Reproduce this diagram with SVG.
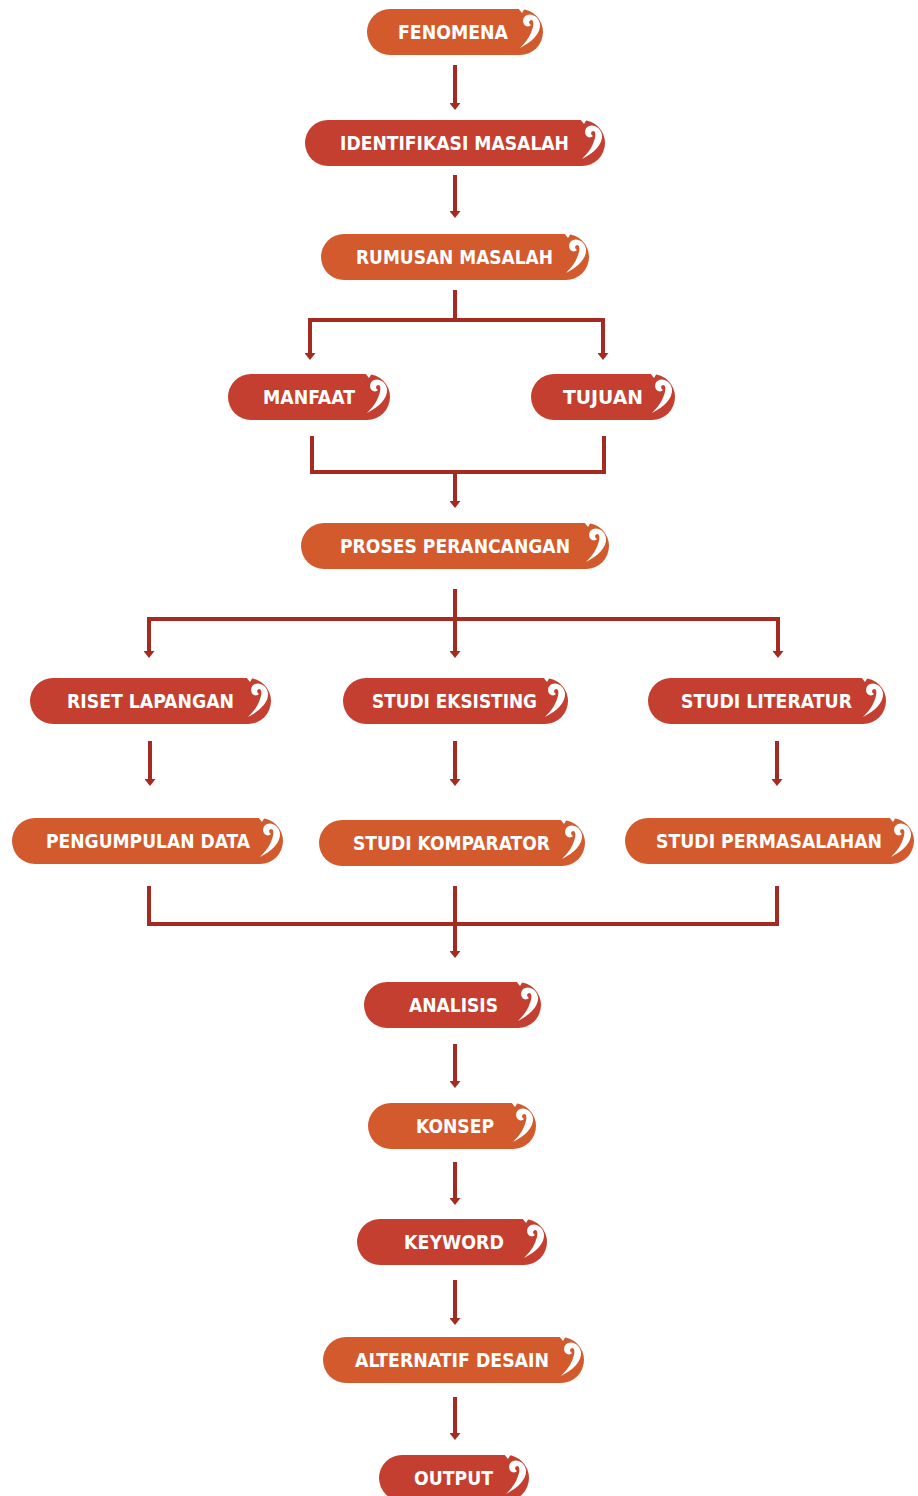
<svg xmlns="http://www.w3.org/2000/svg" xmlns:xlink="http://www.w3.org/1999/xlink" width="918" height="1496" viewBox="0 0 918 1496">
<style>
.o{fill:#D35A2D}
.r{fill:#C43F2F}
.t{font-family:"DejaVu Sans Condensed","Liberation Sans",sans-serif;font-weight:bold;font-size:19px;fill:#fff;text-anchor:middle}
.c{stroke:#A52A22;stroke-width:4;fill:none}
</style>
<defs>
<marker id="ah" markerUnits="userSpaceOnUse" markerWidth="7" markerHeight="11" viewBox="0 0 7 11" refX="1" refY="5.5" orient="auto">
<path d="M0,0 L7,5.5 L0,11 Z" fill="#A52A22"/>
</marker>
<path id="sw" fill="#fff" d="M-23,39 C-11,33 -2,24 -3,15 C-4,8 -11,4 -16,6 C-21,8 -21,15 -17,17 C-15,18 -13,17 -12,16 C-14,15 -15,12 -12,11 C-9,11 -9,16 -11,21 C-13,28 -18,34 -23,39 Z M-25,-1 L-18,-1 L-21,4 Z"/>
</defs>
<g id="connectors">
<path class="c" d="M455,65 V104" marker-end="url(#ah)"/>
<path class="c" d="M455,175 V212" marker-end="url(#ah)"/>
<path class="c" d="M455,290 V320"/>
<path class="c" d="M310,354 V320 H603 V354"/>
<path class="c" d="M310,320 V354" marker-end="url(#ah)"/>
<path class="c" d="M603,320 V354" marker-end="url(#ah)"/>
<path class="c" d="M312,436 V472 H604 V436"/>
<path class="c" d="M455,472 V502" marker-end="url(#ah)"/>
<path class="c" d="M455,589 V652" marker-end="url(#ah)"/>
<path class="c" d="M149,652 V619 H778 V652"/>
<path class="c" d="M149,619 V652" marker-end="url(#ah)"/>
<path class="c" d="M778,619 V652" marker-end="url(#ah)"/>
<path class="c" d="M150,741 V780" marker-end="url(#ah)"/>
<path class="c" d="M455,741 V780" marker-end="url(#ah)"/>
<path class="c" d="M777,741 V780" marker-end="url(#ah)"/>
<path class="c" d="M149,886 V924 H777 V886"/>
<path class="c" d="M455,886 V952" marker-end="url(#ah)"/>
<path class="c" d="M455,1044 V1082" marker-end="url(#ah)"/>
<path class="c" d="M455,1162 V1199" marker-end="url(#ah)"/>
<path class="c" d="M455,1280 V1319" marker-end="url(#ah)"/>
<path class="c" d="M455,1397 V1434" marker-end="url(#ah)"/>
</g>
<g id="n-fenomena"><rect class="o" x="367" y="9" width="176" height="46" rx="23"/><use href="#sw" xlink:href="#sw" transform="translate(543,9)"/><text class="t" x="453" y="39" textLength="110" lengthAdjust="spacingAndGlyphs">FENOMENA</text></g>
<g id="n-identifikasi"><rect class="r" x="305" y="120" width="300" height="46" rx="23"/><use href="#sw" xlink:href="#sw" transform="translate(605,120)"/><text class="t" x="454.5" y="150" textLength="229" lengthAdjust="spacingAndGlyphs">IDENTIFIKASI MASALAH</text></g>
<g id="n-rumusan"><rect class="o" x="321" y="234" width="268" height="46" rx="23"/><use href="#sw" xlink:href="#sw" transform="translate(589,234)"/><text class="t" x="454.5" y="264" textLength="197" lengthAdjust="spacingAndGlyphs">RUMUSAN MASALAH</text></g>
<g id="n-manfaat"><rect class="r" x="228" y="374" width="162" height="46" rx="23"/><use href="#sw" xlink:href="#sw" transform="translate(390,374)"/><text class="t" x="309" y="404" textLength="92" lengthAdjust="spacingAndGlyphs">MANFAAT</text></g>
<g id="n-tujuan"><rect class="r" x="531" y="374" width="144" height="46" rx="23"/><use href="#sw" xlink:href="#sw" transform="translate(675,374)"/><text class="t" x="603" y="404" textLength="80" lengthAdjust="spacingAndGlyphs">TUJUAN</text></g>
<g id="n-proses"><rect class="o" x="301" y="523" width="308" height="46" rx="23"/><use href="#sw" xlink:href="#sw" transform="translate(609,523)"/><text class="t" x="455" y="553" textLength="230" lengthAdjust="spacingAndGlyphs">PROSES PERANCANGAN</text></g>
<g id="n-riset"><rect class="r" x="30" y="678" width="241" height="46" rx="23"/><use href="#sw" xlink:href="#sw" transform="translate(271,678)"/><text class="t" x="150.5" y="708" textLength="167" lengthAdjust="spacingAndGlyphs">RISET LAPANGAN</text></g>
<g id="n-eksisting"><rect class="r" x="343" y="678" width="225" height="46" rx="23"/><use href="#sw" xlink:href="#sw" transform="translate(568,678)"/><text class="t" x="454.5" y="708" textLength="165" lengthAdjust="spacingAndGlyphs">STUDI EKSISTING</text></g>
<g id="n-literatur"><rect class="r" x="648" y="678" width="238" height="46" rx="23"/><use href="#sw" xlink:href="#sw" transform="translate(886,678)"/><text class="t" x="766.5" y="708" textLength="171" lengthAdjust="spacingAndGlyphs">STUDI LITERATUR</text></g>
<g id="n-pengumpulan"><rect class="o" x="12" y="818" width="271" height="46" rx="23"/><use href="#sw" xlink:href="#sw" transform="translate(283,818)"/><text class="t" x="148" y="848" textLength="204" lengthAdjust="spacingAndGlyphs">PENGUMPULAN DATA</text></g>
<g id="n-komparator"><rect class="o" x="319" y="820" width="266" height="46" rx="23"/><use href="#sw" xlink:href="#sw" transform="translate(585,820)"/><text class="t" x="451.5" y="850" textLength="197" lengthAdjust="spacingAndGlyphs">STUDI KOMPARATOR</text></g>
<g id="n-permasalahan"><rect class="o" x="625" y="818" width="289" height="46" rx="23"/><use href="#sw" xlink:href="#sw" transform="translate(914,818)"/><text class="t" x="769" y="848" textLength="226" lengthAdjust="spacingAndGlyphs">STUDI PERMASALAHAN</text></g>
<g id="n-analisis"><rect class="r" x="364" y="982" width="177" height="46" rx="23"/><use href="#sw" xlink:href="#sw" transform="translate(541,982)"/><text class="t" x="453.5" y="1012" textLength="89" lengthAdjust="spacingAndGlyphs">ANALISIS</text></g>
<g id="n-konsep"><rect class="o" x="368" y="1103" width="168" height="46" rx="23"/><use href="#sw" xlink:href="#sw" transform="translate(536,1103)"/><text class="t" x="455" y="1133" textLength="78" lengthAdjust="spacingAndGlyphs">KONSEP</text></g>
<g id="n-keyword"><rect class="r" x="357" y="1219" width="190" height="46" rx="23"/><use href="#sw" xlink:href="#sw" transform="translate(547,1219)"/><text class="t" x="454" y="1249" textLength="100" lengthAdjust="spacingAndGlyphs">KEYWORD</text></g>
<g id="n-alternatif"><rect class="o" x="323" y="1337" width="261" height="46" rx="23"/><use href="#sw" xlink:href="#sw" transform="translate(584,1337)"/><text class="t" x="452" y="1367" textLength="194" lengthAdjust="spacingAndGlyphs">ALTERNATIF DESAIN</text></g>
<g id="n-output"><rect class="r" x="379" y="1455" width="150" height="46" rx="23"/><use href="#sw" xlink:href="#sw" transform="translate(529,1455)"/><text class="t" x="453.5" y="1485" textLength="79" lengthAdjust="spacingAndGlyphs">OUTPUT</text></g>
</svg>
